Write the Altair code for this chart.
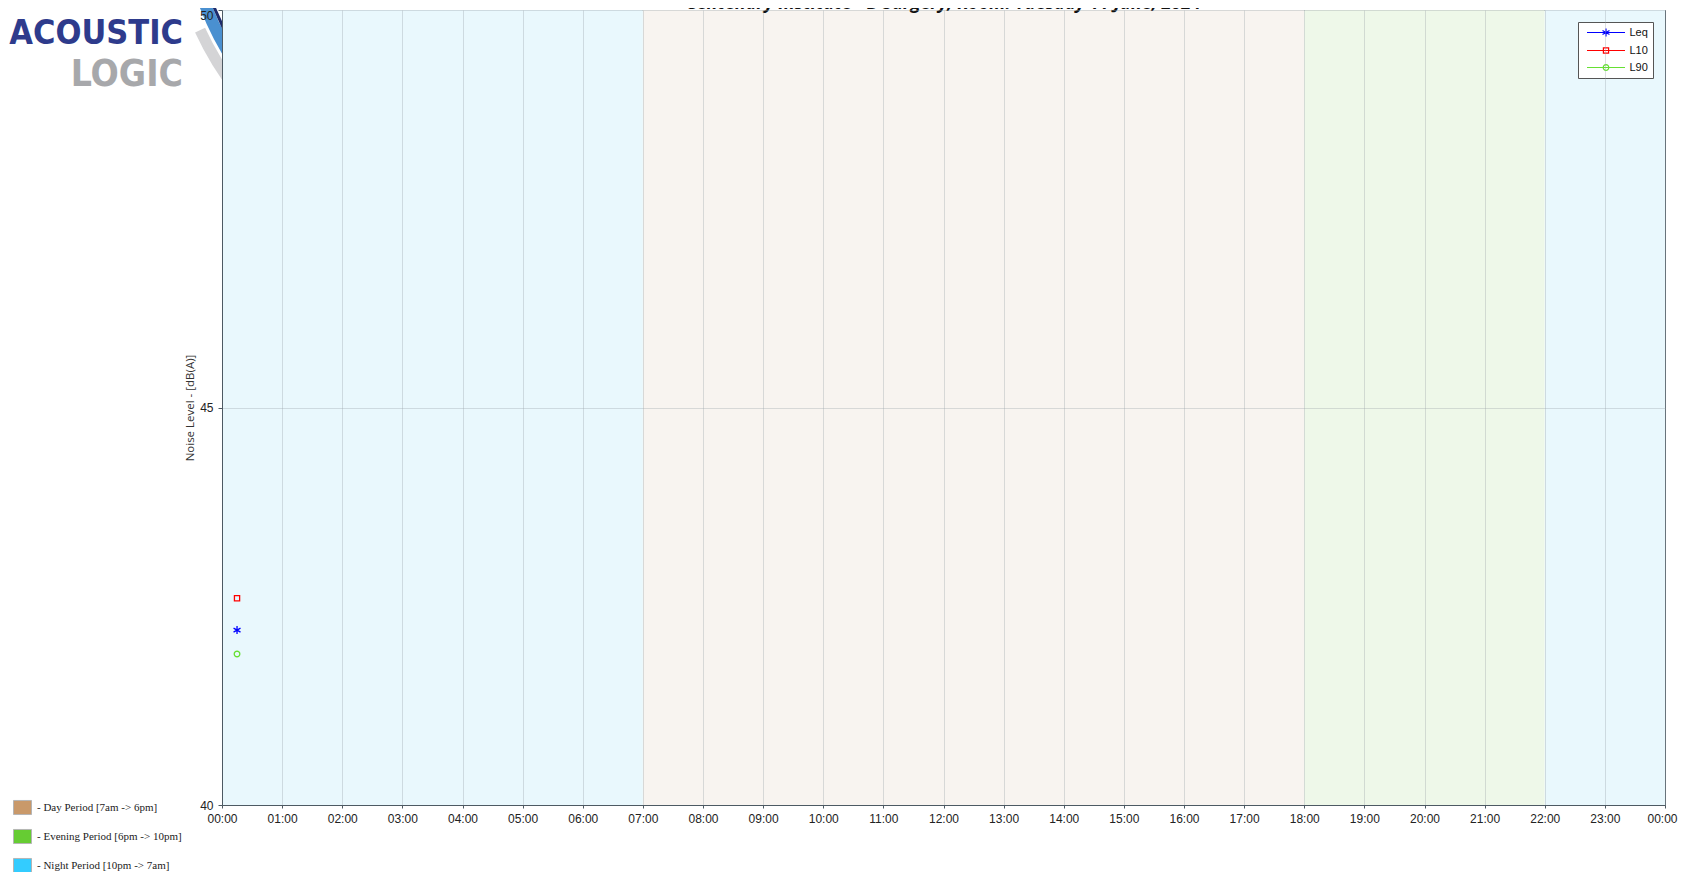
import json
import math
import altair as alt
import pandas as pd

# ---------------- data ----------------
series_names = ["Leq", "L10", "L90"]
series_colors = ["#0000ff", "#ff0000", "#66e033"]
sample_hours = [0.25, 0.25, 0.25]          # 00:15
sample_levels = [42.2, 42.6, 41.9]

band_starts = [0, 7, 18, 22]
band_ends = [7, 18, 22, 24]
band_periods = ["Night", "Day", "Evening", "Night"]
period_names = ["Day", "Evening", "Night"]
period_labels = ["- Day Period [7am -> 6pm]",
                 "- Evening Period [6pm -> 10pm]",
                 "- Night Period [10pm -> 7am]"]
period_swatch_colors = ["#c9996a", "#66cc33", "#33ccff"]
period_band_colors = ["#f8f4f0", "#eef8e9", "#e9f8fd"]

hour_ticks = list(range(25))
hour_labels = ["00:00", "01:00", "02:00", "03:00", "04:00", "05:00", "06:00",
               "07:00", "08:00", "09:00", "10:00", "11:00", "12:00", "13:00",
               "14:00", "15:00", "16:00", "17:00", "18:00", "19:00", "20:00",
               "21:00", "22:00", "23:00", "00:00"]
y_ticks = [40, 45, 50]
y_domain = [40, 50]
x_domain = [0, 24]

title_text = "Centenary Institute - B Surgery, Room: Tuesday 11 June, 2024"
y_title = "Noise Level - [dB(A)]"

# ---------------- tables ----------------
label_of = dict(zip(period_names, period_labels))
bands_df = pd.DataFrame({
    "start": band_starts,
    "end": band_ends,
    "period": [label_of[p] for p in band_periods],
})
pts_df = pd.DataFrame({"hour": sample_hours, "level": sample_levels,
                       "series": series_names})

# ---------------- styles ----------------
W, H = 1443, 795
AX = "#4d5a63"

def poly_circle(r, n=16):
    pts = [(r * math.cos(2 * math.pi * k / n), r * math.sin(2 * math.pi * k / n)) for k in range(n)]
    return "M" + "L".join(f"{x:.3f},{y:.3f}" for x, y in pts) + "Z"

asterisk = "M0,-1V1M-0.87,-0.5L0.87,0.5M-0.87,0.5L0.87,-0.5"
square_p = "M-0.65,-0.65H0.65V0.65H-0.65Z"
circle_p = poly_circle(0.7)
line_p = "M-4.75,0H4.75"
marker_paths = [asterisk, square_p, circle_p]
legend_paths = [line_p + asterisk, line_p + square_p, line_p + circle_p]
rect_path = "M-1,-0.78H1V0.78H-1Z"

x_scale = alt.Scale(domain=x_domain, nice=False, zero=False)
y_scale = alt.Scale(domain=y_domain, nice=False, zero=False)

last_tick = hour_ticks[-1]
top_tick = y_ticks[-1]
x_axis = alt.Axis(values=hour_ticks, labelExpr=json.dumps(hour_labels) + "[datum.value]",
                  title=None, grid=True, gridColor="#9aa4a8", gridOpacity=0.35,
                  tickSize=3, tickColor=AX, domainColor=AX, labelFont="Liberation Sans",
                  labelFontSize=12, labelColor="#222", labelPadding=5, labelFlush=False,
                  labelOverlap=False, labelBound=False, zindex=1,
                  labelOffset={"condition": {"test": f"datum.value == {last_tick}", "value": -3},
                               "value": 0})
y_axis = alt.Axis(values=y_ticks, title=y_title, grid=True, gridColor="#9aa4a8",
                  gridOpacity=0.35, tickSize=4, tickColor=AX, domainColor=AX,
                  labelFont="Liberation Sans", labelFontSize=12, labelColor="#222",
                  labelPadding=5, labelFlush=False, labelOverlap=False,
                  labelOffset={"condition": {"test": f"datum.value == {top_tick}", "value": 5},
                               "value": 0},
                  titleFont="Open Sans", titleFontSize=11.5, titleFontWeight="normal",
                  titleColor="#333", titleX=-32, titleY=H / 2, titleAlign="center",
                  titleBaseline="middle", zindex=1)

one = alt.Data(values=[{}])

# logo swoosh
swoosh_gray = alt.Chart(one).mark_arc(radius=316, radius2=305, theta=4.05, theta2=4.28,
                                      color="#d4d4d6").encode(x=alt.value(260), y=alt.value(-110))
swoosh_blue = alt.Chart(one).mark_arc(radius=302, radius2=290, theta=4.12, theta2=4.42,
                                      color="#4a90d0").encode(x=alt.value(260), y=alt.value(-110))
swoosh_navy = alt.Chart(one).mark_arc(radius=290, radius2=287, theta=4.18, theta2=4.42,
                                      color="#1c2a6b").encode(x=alt.value(260), y=alt.value(-110))

bands = alt.Chart(bands_df).mark_rect().encode(
    x=alt.X("start:Q", scale=x_scale, axis=x_axis),
    x2="end:Q",
    y=alt.Y(datum=y_domain[0], type="quantitative", scale=y_scale, axis=y_axis),
    y2=alt.Y2(datum=y_domain[1]),
    fill=alt.Fill("period:N", scale=alt.Scale(domain=period_labels, range=period_band_colors),
                  legend=None),
)

period_legend = alt.Legend(title=None, orient="none", legendX=-209, legendY=788,
                           padding=0, rowPadding=10, symbolType=rect_path, symbolSize=324,
                           symbolStrokeColor="#b5b5b5", symbolStrokeWidth=1,
                           symbolOpacity=1, labelFont="Liberation Serif", labelFontSize=11,
                           labelColor="#222", labelOffset=5, labelLimit=300)
period_leg_layer = alt.Chart(bands_df).transform_filter("false").mark_point(
    filled=True, size=324, shape=rect_path, opacity=1).encode(
    x=alt.X("start:Q", scale=x_scale, axis=x_axis),
    fill=alt.Fill("period:N", scale=alt.Scale(domain=period_labels, range=period_swatch_colors),
                  legend=period_legend),
)

points = alt.Chart(pts_df).mark_point(filled=False, size=64, strokeWidth=1.3, opacity=1).encode(
    x=alt.X("hour:Q", scale=x_scale, axis=x_axis),
    y=alt.Y("level:Q", scale=y_scale, axis=y_axis),
    color=alt.Color("series:N", scale=alt.Scale(domain=series_names, range=series_colors),
                    legend=None),
    shape=alt.Shape("series:N", scale=alt.Scale(domain=series_names, range=marker_paths),
                    legend=None),
)

series_legend = dict(title=None, orient="none", legendX=1356, legendY=12, padding=5,
                     rowPadding=5, symbolSize=64, symbolOffset=17.5, labelOffset=18,
                     symbolStrokeWidth=1.2, symbolOpacity=1, strokeColor="#555",
                     fillColor="white", cornerRadius=0, labelFont="Liberation Sans",
                     labelFontSize=11, labelColor="#111")
series_leg_layer = alt.Chart(pts_df).transform_filter("false").mark_point(
    filled=False, size=64, strokeWidth=1.2, opacity=1).encode(
    x=alt.X("hour:Q", scale=x_scale, axis=x_axis),
    y=alt.Y("level:Q", scale=y_scale, axis=y_axis),
    color=alt.Color("series:N", scale=alt.Scale(domain=series_names, range=series_colors),
                    legend=alt.Legend(**series_legend)),
    shape=alt.Shape("series:N", scale=alt.Scale(domain=series_names, range=legend_paths),
                    legend=alt.Legend(**series_legend)),
)

LOGO_FONT = "Liberation Sans Narrow, DejaVu Sans Condensed, sans-serif"
logo_top = alt.Chart(one).mark_text(
    text="ACOUSTIC", align="right", baseline="alphabetic", font=LOGO_FONT,
    fontSize=34, fontWeight="bold", color="#2e3b8c").encode(x=alt.value(-39), y=alt.value(34))
logo_bottom = alt.Chart(one).mark_text(
    text="LOGIC", align="right", baseline="alphabetic", font=LOGO_FONT,
    fontSize=37, fontWeight="bold", color="#a7a8ab").encode(x=alt.value(-39), y=alt.value(76))

title_layer = alt.Chart(one).mark_text(
    text=title_text, align="center", baseline="alphabetic", font="Open Sans",
    fontSize=18, fontWeight="bold", fontStyle="italic", color="#111").encode(
    x=alt.value(W / 2), y=alt.value(-1))

chart = alt.layer(
    swoosh_gray, swoosh_blue, swoosh_navy, bands, period_leg_layer, points,
    series_leg_layer, logo_top, logo_bottom, title_layer,
).resolve_scale(
    color="independent", shape="independent", fill="independent"
).properties(
    width=W, height=H,
    autosize=alt.AutoSizeParams(type="none"),
    padding={"left": 214, "top": 2, "right": 13, "bottom": 67},
    background="white",
).configure_view(stroke=AX, strokeWidth=1)

chart.save("out.html", embed_options={"renderer": "svg", "actions": False})
